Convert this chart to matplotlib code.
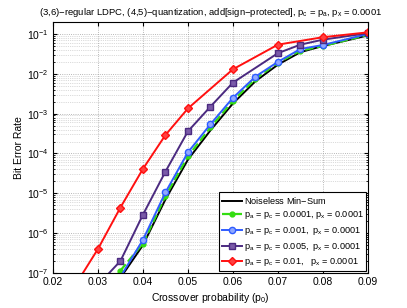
import numpy as np
import matplotlib
matplotlib.use('Agg')
from matplotlib import pyplot as plt
from matplotlib.ticker import LogLocator, NullFormatter, MultipleLocator

plt.rcParams['font.family'] = ['Liberation Sans', 'DejaVu Sans']
plt.rcParams['mathtext.fontset'] = 'custom'
plt.rcParams['mathtext.rm'] = 'Liberation Sans'
plt.rcParams['mathtext.it'] = 'Liberation Sans'

# 데이터
x_black = [0.035, 0.036, 0.04, 0.045, 0.05, 0.055, 0.06, 0.065, 0.07, 0.075, 0.08, 0.09]
y_black = [8e-8, 1.1e-7, 5e-7, 7e-6, 7e-5, 3.8e-4, 1.8e-3, 6.5e-3, 1.7e-2, 3.5e-2, 5.0e-2, 9.2e-2]

x_green = [0.035, 0.04, 0.045, 0.05, 0.055, 0.06, 0.065, 0.07, 0.075, 0.08, 0.09]
y_green = [1.15e-7, 5.5e-7, 8.5e-6, 8.5e-5, 4.5e-4, 2.1e-3, 7.5e-3, 1.9e-2, 3.8e-2, 5.0e-2, 9.5e-2]

x_blue = [0.035, 0.04, 0.045, 0.05, 0.055, 0.06, 0.065, 0.07, 0.075, 0.08, 0.09]
y_blue = [8e-8, 6.8e-7, 1.05e-5, 1.07e-4, 5.4e-4, 2.5e-3, 8.5e-3, 2.0e-2, 4.2e-2, 5.3e-2, 1.0e-1]

x_purple = [0.03, 0.035, 0.04, 0.045, 0.05, 0.055, 0.06, 0.07, 0.075, 0.08, 0.09]
y_purple = [5e-8, 2e-7, 2.9e-6, 3.5e-5, 3.6e-4, 1.5e-3, 6e-3, 3.3e-2, 5.4e-2, 7.2e-2, 1.05e-1]

x_red = [0.025, 0.03, 0.035, 0.04, 0.045, 0.05, 0.06, 0.07, 0.08, 0.09]
y_red = [5e-8, 4e-7, 4.4e-6, 4.1e-5, 2.9e-4, 1.35e-3, 1.3e-2, 5.4e-2, 8.3e-2, 1.1e-1]

labels = ['Noiseless Min$-$Sum',
          'p$_a$ = p$_c$ = 0.0001, p$_x$ = 0.0001',
          'p$_a$ = p$_c$ = 0.001,  p$_x$ = 0.0001',
          'p$_a$ = p$_c$ = 0.005,  p$_x$ = 0.0001',
          'p$_a$ = p$_c$ = 0.01,   p$_x$ = 0.0001']

fig = plt.figure(figsize=(4.07, 3.08), dpi=100)
ax = fig.add_axes([0.130, 0.1136, 0.774, 0.815])

ax.semilogy(x_black, y_black, color='black', lw=1.4, label=labels[0])
ax.semilogy(x_green, y_green, color='#33dd11', lw=1.6, ls='--', marker='o', ms=3.5,
            label=labels[1])
ax.semilogy(x_blue, y_blue, color='#2f5cff', lw=1.4, marker='o', ms=4.5,
            mfc='#8fa8ff', mec='#2f5cff', mew=1.0, label=labels[2])
ax.semilogy(x_purple, y_purple, color='#4b2a80', lw=1.4, marker='s', ms=4,
            mfc='#7a5aa8', mec='#4b2a80', label=labels[3])
ax.semilogy(x_red, y_red, color='#ff1010', lw=1.4, marker='D', ms=4,
            mfc='#ff4040', mec='#ff1010', label=labels[4])

ax.set_xlim(0.02, 0.09)
ax.set_ylim(1e-7, 0.2)
ax.xaxis.set_major_locator(MultipleLocator(0.01))
ax.yaxis.set_major_locator(LogLocator(base=10, numticks=20))
ax.yaxis.set_minor_locator(LogLocator(base=10, subs=np.arange(2, 10), numticks=20))
ax.yaxis.set_minor_formatter(NullFormatter())
ax.tick_params(which='both', direction='in', top=True, right=True, labelsize=7.5)
ax.tick_params(which='major', length=3, pad=3)
ax.tick_params(which='minor', length=1.5)
ax.grid(True, which='major', ls=':', color='#a0a0a0', lw=0.6)
ax.grid(True, which='minor', axis='y', ls=':', color='#b8b8b8', lw=0.5)

ax.set_xlabel('Crossover probability (p$_0$)', fontsize=7.5, labelpad=3)
ax.set_ylabel('Bit Error Rate', fontsize=7.5, labelpad=2)
ax.set_title('(3,6)$-$regular LDPC, (4,5)$-$quantization, add[sign$-$protected], '
             'p$_c$ = p$_a$, p$_x$ = 0.0001', fontsize=6.8, pad=5)

leg = ax.legend(loc='lower right', fontsize=6.6, fancybox=False, framealpha=1,
                edgecolor='black', borderaxespad=0.2, handlelength=2.2,
                labelspacing=0.4, borderpad=0.3, handletextpad=0.2)
leg.get_frame().set_linewidth(0.8)

fig.savefig('out.png', dpi=100)
